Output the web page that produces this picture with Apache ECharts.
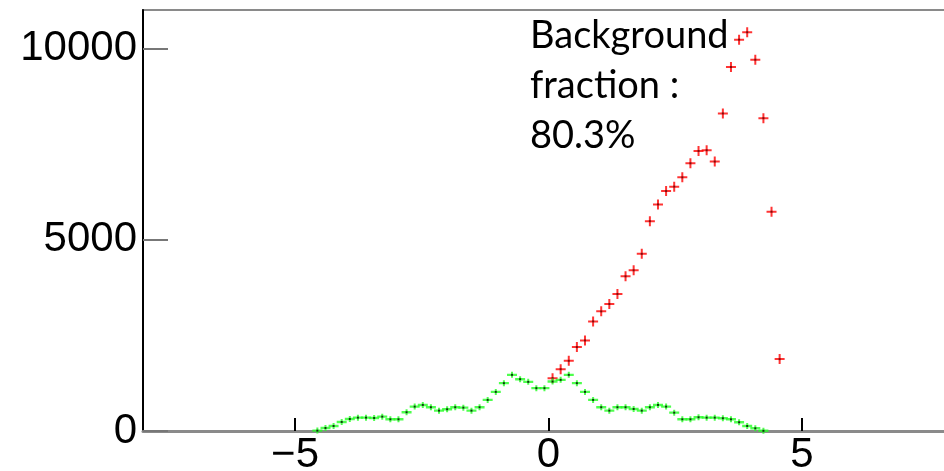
<!DOCTYPE html>
<html>
  <head>
    <meta charset="utf-8" />
    <title>Background fraction</title>
    <script src="https://cdn.jsdelivr.net/npm/echarts@6.0.0/dist/echarts.min.js"></script>
    <style>
      html, body { margin: 0; padding: 0; background: #fff; }
    </style>
  </head>
  <body>
    <div id="main" style="width: 944px; height: 471px"></div>

    <script type="text/javascript">
      // bin centres (bin width 0.16) and counts
      var redX = [0.08, 0.24, 0.40, 0.56, 0.72, 0.88, 1.04, 1.20, 1.36, 1.52,
        1.68, 1.84, 2.00, 2.16, 2.32, 2.48, 2.64, 2.80, 2.96, 3.12,
        3.28, 3.44, 3.60, 3.76, 3.92, 4.08, 4.24, 4.40, 4.56];
      var redY = [1381, 1616, 1834, 2193, 2366, 2864, 3126, 3319, 3581, 4042,
        4200, 4629, 5483, 5921, 6269, 6385, 6628, 6995, 7317, 7336,
        7040, 8297, 9510, 10225, 10419, 9701, 8174, 5730, 1878];

      var greenX = [-4.56, -4.40, -4.24, -4.08, -3.92, -3.76, -3.60, -3.44, -3.28, -3.12,
        -2.96, -2.80, -2.64, -2.48, -2.32, -2.16, -2.00, -1.84, -1.68, -1.52,
        -1.36, -1.20, -1.04, -0.88, -0.72, -0.56, -0.40, -0.24, -0.08, 0.08,
        0.24, 0.40, 0.56, 0.72, 0.88, 1.04, 1.20, 1.36, 1.52, 1.68,
        1.84, 2.00, 2.16, 2.32, 2.48, 2.64, 2.80, 2.96, 3.12, 3.28,
        3.44, 3.60, 3.76, 3.92, 4.08, 4.24];
      var greenY = [10, 79, 131, 236, 314, 349, 349, 340, 375, 306,
        306, 490, 637, 681, 621, 532, 568, 621, 610, 532,
        621, 812, 1022, 1250, 1467, 1354, 1284, 1119, 1119, 1292,
        1336, 1467, 1250, 1022, 812, 621, 532, 621, 621, 576,
        532, 621, 681, 637, 479, 306, 306, 359, 349, 349,
        333, 306, 228, 131, 71, 5];

      var xTicks = [-5, 0, 5];
      var yTicks = [0, 5000, 10000];
      var noteText = "Background\nfraction :\n80.3%";

      function pairs(xs, ys) {
        var out = [];
        for (var i = 0; i < xs.length; i++) {
          out.push([xs[i], ys[i]]);
        }
        return out;
      }

      var redData = pairs(redX, redY);
      var greenData = pairs(greenX, greenY);

      var chartDom = document.getElementById("main");
      var myChart = echarts.init(chartDom, null, { renderer: "canvas" });
      var option;

      option = {
        animation: false,
        backgroundColor: "#fff",
        grid: {
          left: 143,
          right: -10,
          top: 10,
          bottom: 40,
          containLabel: false,
          outerBoundsMode: "none",
          show: true,
          borderColor: "#8a8a8a",
          borderWidth: 2,
          backgroundColor: "transparent",
        },
        xAxis: {
          type: "value",
          min: -8,
          max: 8,
          splitLine: { show: false },
          axisLine: { lineStyle: { color: "#8a8a8a", width: 3 } },
          axisTick: {
            inside: true,
            length: 13,
            customValues: xTicks,
            lineStyle: { color: "#000", width: 2 },
          },
          axisLabel: {
            customValues: xTicks,
            margin: 3,
            color: "#000",
            fontFamily: "Liberation Sans",
            fontSize: 42,
            formatter: function (v) {
              return v < 0 ? "\u2212" + -v : String(v);
            },
          },
        },
        yAxis: {
          type: "value",
          min: 0,
          max: 11000,
          splitLine: { show: false },
          axisLine: { show: true, onZero: false, lineStyle: { color: "#000", width: 2 } },
          axisTick: {
            inside: true,
            length: 25,
            customValues: yTicks,
            lineStyle: { color: "#777", width: 2 },
          },
          axisLabel: {
            customValues: yTicks,
            margin: 6,
            color: "#000",
            fontFamily: "Liberation Sans",
            fontSize: 42,
            formatter: function (v) {
              return String(v);
            },
          },
        },
        graphic: [
          {
            type: "text",
            left: 530,
            top: 11,
            z: 100,
            style: {
              text: noteText,
              fill: "#000",
              font: '38px "Lato"',
              lineHeight: 50,
            },
          },
        ],
        series: [
          {
            name: "background",
            type: "scatter",
            symbol: "path://M0,4H10V6H0Z M4,0H6V10H4Z",
            symbolSize: [10, 10],
            itemStyle: { color: "#ff0000" },
            data: redData,
            z: 2,
          },
          {
            name: "background centre",
            type: "scatter",
            symbol: "rect",
            symbolSize: 2,
            itemStyle: { color: "#600000" },
            data: redData,
            z: 3,
          },
          {
            name: "signal",
            type: "scatter",
            symbol: "path://M0,1.8H10V4.2H0Z M4,0H6V6H4Z",
            symbolSize: [10, 6],
            itemStyle: { color: "#22ff22" },
            data: greenData,
            z: 4,
          },
          {
            name: "signal centre",
            type: "scatter",
            symbol: "rect",
            symbolSize: 2,
            itemStyle: { color: "#000" },
            data: greenData,
            z: 5,
          },
        ],
      };

      option && myChart.setOption(option);
    </script>
  </body>
</html>
